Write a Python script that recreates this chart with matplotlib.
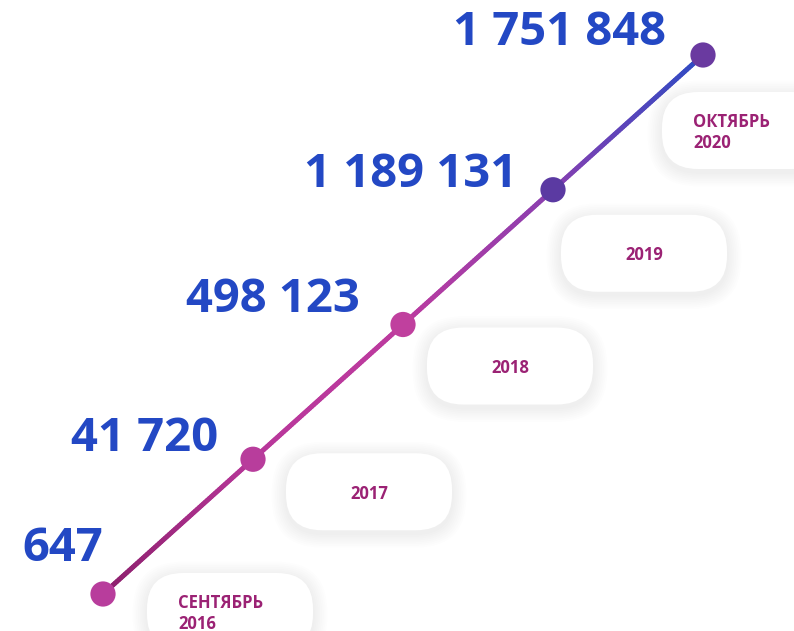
import numpy as np
import matplotlib.pyplot as plt
from matplotlib.collections import LineCollection
from matplotlib.patches import FancyBboxPatch
from matplotlib.colors import LinearSegmentedColormap
from matplotlib.transforms import IdentityTransform

# data
values = [647, 41720, 498123, 1189131, 1751848]
value_labels = ["647", "41 720", "498 123", "1 189 131", "1 751 848"]
periods = ["СЕНТЯБРЬ\n2016", "2017", "2018", "2019", "ОКТЯБРЬ\n2020"]

# styling / layout (pixel offsets from each point)
label_off = [(0, 33), (-35, 8), (-43, 12), (-36, 3), (-37, 10)]   # right edge, baseline
box_off = [(44, -21), (33, -6), (24, 3), (8, 25), (-41, 37)]      # left, top
box_w, box_h = 166, 77
text_align = ["left", "center", "center", "center", "left"]

blue = "#2348c4"
plum = "#9b2274"

W, H = 794, 631
fig = plt.figure(figsize=(W / 100, H / 100), dpi=100)
ax = fig.add_axes([0, 0, 1, 1])
ax.set_xlim(-103 / 150, (W - 103) / 150)
ax.set_ylim(-37 / 134.75, (H - 37) / 134.75)
ax.axis("off")

idx = np.arange(len(values))
fig.canvas.draw()
pts = ax.transData.transform(np.column_stack([idx, idx]))

# boxes with soft shadow
ident = IdentityTransform()
for i, (px, py) in enumerate(pts):
    left = px + box_off[i][0]
    top = py - box_off[i][1]
    for k in range(8, 0, -1):
        g = 1.8 * k
        sh = FancyBboxPatch((left - g, top - box_h - g - 3), box_w + 2 * g, box_h + 2 * g,
                            boxstyle="round,pad=0,rounding_size=%f" % (36 + g),
                            fc="#000000", ec="none", alpha=0.008,
                            transform=ident, zorder=1)
        fig.add_artist(sh)
    box = FancyBboxPatch((left, top - box_h), box_w, box_h,
                         boxstyle="round,pad=0,rounding_size=36",
                         fc="white", ec="none", transform=ident, zorder=2)
    fig.add_artist(box)
    if text_align[i] == "center":
        tx, ha = left + box_w / 2, "center"
    else:
        tx, ha = left + 31, "left"
    fig.text(tx / W, (top - box_h / 2 - 2) / H, periods[i], ha=ha, va="center",
             color=plum, fontsize=12, fontweight="bold", family="Open Sans",
             linespacing=1.25, zorder=3)

# gradient line
cmap = LinearSegmentedColormap.from_list(
    "g", ["#8c1f6c", "#b8379a", "#bd3b9f", "#8a3fb0", "#2e4bc4"])
t = np.linspace(0, len(values) - 1, 300)
seg_pts = np.column_stack([t, t]).reshape(-1, 1, 2)
segs = np.concatenate([seg_pts[:-1], seg_pts[1:]], axis=1)
lc = LineCollection(segs, cmap=cmap, linewidth=3.5, capstyle="round", zorder=4)
lc.set_array(t[:-1] / t.max())
ax.add_collection(lc)

dot_colors = ["#b83d9c", "#b83d9c", "#c0409e", "#5b3aa2", "#6a3aa0"]
ax.scatter(idx, idx, s=330, c=dot_colors, zorder=5, edgecolors="none")

for i, (px, py) in enumerate(pts):
    ax.annotate(value_labels[i], (idx[i], idx[i]),
                xytext=(label_off[i][0] * 0.72, label_off[i][1] * 0.72),
                textcoords="offset points", ha="right", va="baseline",
                color=blue, fontsize=34, fontweight="bold", family="Open Sans",
                zorder=6)

fig.savefig("out.png", dpi=100, facecolor="white")
